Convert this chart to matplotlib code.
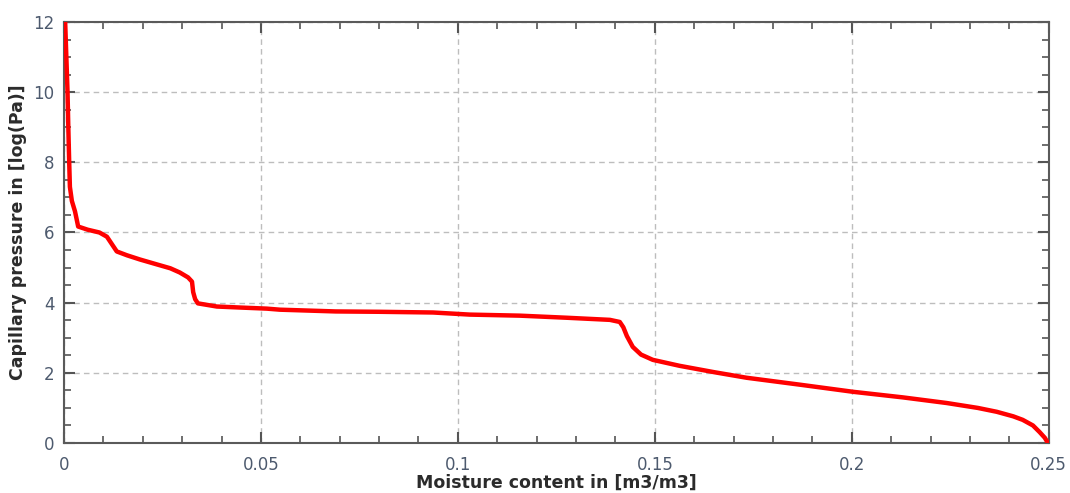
import matplotlib
matplotlib.use('Agg')
import matplotlib.pyplot as plt
from matplotlib.ticker import MultipleLocator

# moisture storage function, read as (moisture content, log10 capillary pressure)
moisture = [0.0003, 0.0006, 0.0009, 0.0011, 0.0013, 0.0015, 0.0020, 0.0028, 0.0036,
            0.0060, 0.0090, 0.0109, 0.0134, 0.0160, 0.0193, 0.0236, 0.0270, 0.0294,
            0.0315, 0.0325, 0.0328, 0.0333, 0.0340, 0.0388, 0.0450, 0.0515, 0.0548,
            0.0690, 0.0800, 0.0937, 0.1030, 0.1157, 0.1277, 0.1386, 0.1411, 0.1420,
            0.1429, 0.1444, 0.1465, 0.1495, 0.1563, 0.1650, 0.1733, 0.1870, 0.2003,
            0.2130, 0.2241, 0.2320, 0.2368, 0.2410, 0.2434, 0.2460, 0.2477, 0.2490,
            0.2497]
pressure = [12.0, 11.0, 10.0, 9.0, 8.1, 7.3, 6.9, 6.6, 6.17,
            6.08, 6.0, 5.88, 5.46, 5.35, 5.23, 5.09, 4.98, 4.86,
            4.72, 4.60, 4.30, 4.10, 3.98, 3.89, 3.86, 3.83, 3.80,
            3.75, 3.74, 3.72, 3.66, 3.63, 3.57, 3.51, 3.45, 3.30,
            3.05, 2.74, 2.52, 2.37, 2.20, 2.02, 1.86, 1.66, 1.46,
            1.30, 1.14, 1.00, 0.89, 0.76, 0.66, 0.50, 0.31, 0.15,
            0.02]

plt.rcParams['font.family'] = ['DejaVu Sans']

fig = plt.figure(figsize=(10.70, 4.93), dpi=100)
ax = fig.add_axes([0.0598, 0.1014, 0.9203, 0.8540])

ax.plot(moisture, pressure, color='#ff0000', linewidth=3.2, solid_joinstyle='round',
        zorder=3)

ax.set_xlim(0, 0.25)
ax.set_ylim(0, 12)
ax.xaxis.set_major_locator(MultipleLocator(0.05))
ax.xaxis.set_minor_locator(MultipleLocator(0.01))
ax.yaxis.set_major_locator(MultipleLocator(2))
ax.yaxis.set_minor_locator(MultipleLocator(0.5))
ax.set_xticks([0, 0.05, 0.1, 0.15, 0.2, 0.25])
ax.set_xticklabels(['0', '0.05', '0.1', '0.15', '0.2', '0.25'])

ax.grid(True, which='major', color='#bdbdbd', linestyle=(0, (4, 3)), linewidth=1.0)

for sp in ax.spines.values():
    sp.set_color('#5a5a5a')
    sp.set_linewidth(1.5)

ax.tick_params(which='both', direction='in', top=True, right=True,
               color='#555555', labelcolor='#4d5a6e', labelsize=12)
ax.tick_params(axis='x', pad=9)
ax.tick_params(axis='y', pad=7)
ax.tick_params(which='major', length=8, width=1.5)
ax.tick_params(which='minor', length=5, width=1.2)

ax.set_xlabel('Moisture content in [m3/m3]', fontsize=12.5, fontweight='bold',
              color='#2b2b2b', labelpad=0)
ax.set_ylabel('Capillary pressure in [log(Pa)]', fontsize=12.5, fontweight='bold',
              color='#2b2b2b', labelpad=4)

fig.savefig('out.png', dpi=100)
